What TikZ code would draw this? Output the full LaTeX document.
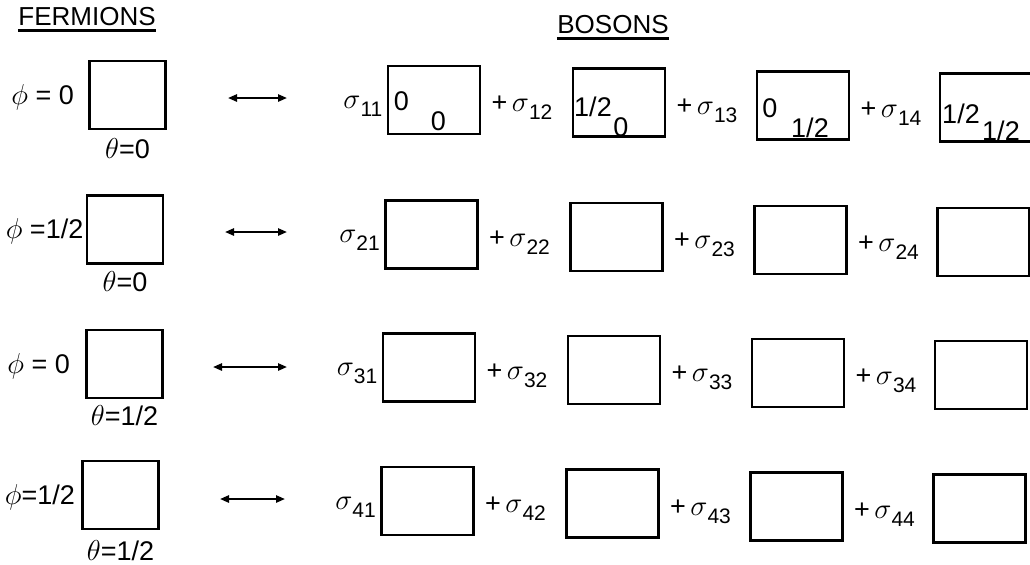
\documentclass[tikz,border=0pt]{standalone}
\usepackage{fontspec}
\setmainfont{Liberation Sans}
\usepackage{tikz}
\usetikzlibrary{arrows.meta,positioning}
\newcommand{\half}{1/2}
\newcommand{\lblfont}{\fontsize{13.5}{15}\selectfont}
\newcommand{\gk}[1]{{\fontsize{15.5}{16}\selectfont$#1$}}
\newcommand{\sgm}[1]{\gk{\sigma}\raisebox{-4pt}{\fontsize{10.5}{11}\selectfont #1}}
\tikzset{
  fbox/.style  = {draw, line width=1.3pt, rectangle, inner sep=0pt,
                  minimum width=38pt, minimum height=34pt},
  bbox/.style  = {fbox, minimum width=46pt},
  lbl/.style   = {inner sep=0pt},
  uline/.style = {line width=1.2pt},
  dbl/.style   = {{Triangle[length=4.5pt,width=3.6pt]}-{Triangle[length=4.5pt,width=3.6pt]},
                  line width=1pt},
}

\begin{document}
\begin{tikzpicture}[x=0.5pt,y=-0.5pt,font=\lblfont]
\useasboundingbox (0,0) rectangle (1030,564);
% headings
\node[lbl, font=\fontsize{13}{14}\selectfont] (fer) at (87,17) {FERMIONS};
\draw[uline] ([yshift=-2pt]fer.south west) -- ([yshift=-2pt]fer.south east);
\node[lbl, font=\fontsize{13}{14}\selectfont] (bos) at (613,25) {BOSONS};
\draw[uline] ([yshift=-2pt]bos.south west) -- ([yshift=-2pt]bos.south east);
% fermion side
\foreach \r/\fx/\fy/\ph/\pg/\th/\tg in {
    1/127.5/95/{\gk{\phi} = 0}/7pt/{\gk{\theta}=0}/4pt,
    2/125/229.5/{\gk{\phi} =\half}/1pt/{\gk{\theta}=0}/3pt,
    3/124.5/364/{\gk{\phi} = 0}/7.5pt/{\gk{\theta}=\half}/3pt,
    4/120.5/495/{\gk{\phi}=\half}/3pt/{\gk{\theta}=\half}/5pt}{
  \node[fbox] (f\r) at (\fx,\fy) {};
  \node[lbl, left=\pg of f\r, yshift=-1pt] (p\r) {\ph};
  \node[lbl, below=\tg of f\r] (t\r) {\th};
}
% arrows
\foreach \r/\al/\ar/\ay in {1/228/287/98, 2/225/287/232, 3/213/287/367, 4/220/285/499}{
  \coordinate (al\r) at (\al,\ay);
  \coordinate (ar\r) at (\ar,\ay);
  \draw[dbl] (al\r) -- (ar\r);
}
% boson side
\foreach \r/\dx/\yy in {1/0/100, 2/2.5/234.5, 3/5/367.5, 4/6.5/501}{
  \foreach \c/\bx/\by in {1/434/0, 2/619/2.5, 3/803/5.5, 4/986/7.5}
    \node[bbox] (b\r\c) at ({\bx-\dx},{\yy+\by}) {};
  \node[lbl, anchor=east] (s\r1) at ([xshift=-2pt,yshift=-3pt]b\r1.west) {\sgm{\r1}};
  \foreach \c/\p in {2/1, 3/2, 4/3}
    \node[lbl, anchor=west] (s\r\c) at ([xshift=5pt,yshift=-4pt]b\r\p.east) {+\,\sgm{\r\c}};
}
% entries of the first row
\node[lbl] (q11a) at (401.5,101) {0};
\node[lbl] (q11b) at (438.5,121.5) {0};
\node[lbl] (q12a) at (593,107) {\half};
\node[lbl] (q12b) at (621,127.5) {0};
\node[lbl] (q13a) at (770,108) {0};
\node[lbl] (q13b) at (810,128) {\half};
\node[lbl] (q14a) at (961,114) {\half};
\node[lbl] (q14b) at (1001,131) {\half};
\end{tikzpicture}
\end{document}
